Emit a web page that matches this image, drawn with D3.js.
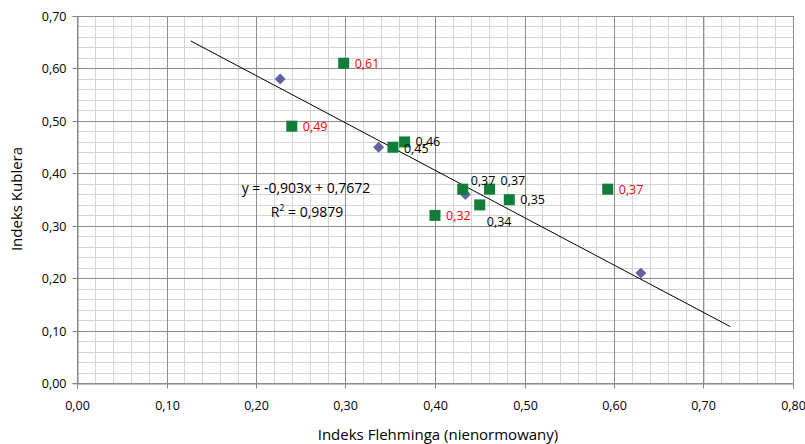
<!DOCTYPE html>
<html><head><meta charset="utf-8">
<script src="https://cdn.jsdelivr.net/npm/d3@7/dist/d3.min.js"></script>
<style>body{margin:0;background:#fff}svg{display:block;font-family:"Open Sans",sans-serif}</style>
</head><body><svg id="c" width="805" height="444"></svg>
<script>
// Data
const diamondX = [0.227, 0.337, 0.434, 0.630];
const diamondY = [0.58, 0.45, 0.36, 0.21];
const squareX = [0.298, 0.240, 0.353, 0.366, 0.431, 0.461, 0.450, 0.483, 0.400, 0.593];
const squareY = [0.61, 0.49, 0.45, 0.46, 0.37, 0.37, 0.34, 0.35, 0.32, 0.37];
const squareLabels = ["0,61", "0,49", "0,45", "0,46", "0,37", "0,37", "0,34", "0,35", "0,32", "0,37"];
const labelRed = [true, true, false, false, false, false, false, false, true, true];
const xTicks = [0, 0.1, 0.2, 0.3, 0.4, 0.5, 0.6, 0.7, 0.8];
const yTicks = [0, 0.1, 0.2, 0.3, 0.4, 0.5, 0.6, 0.7];
const trendSlope = -0.903, trendIntercept = 0.7672, trendR2 = 0.9879;
const trendRange = [0.127, 0.73];
// label placement offsets (dx, dy in px)
const labelOffsets = [[11,0],[11,0],[11,1],[11,0],[8,-9],[11,-9],[7,17],[11,0],[11,0],[11,0]];

const fmt = v => d3.format(".2f")(v).replace(".", ",");
const svg = d3.select("#c");
const x = d3.scaleLinear().domain([0, 0.8]).range([77, 793]);
const y = d3.scaleLinear().domain([0, 0.7]).range([383.3, 16]);

// minor grid
const minorX = d3.range(0, 0.8001, 0.02);
const minorY = d3.range(0, 0.7001, 0.02);
const g = svg.append("g");
g.selectAll(".mx").data(minorX).enter().append("line")
  .attr("x1", d => Math.round(x(d)) + 0.5).attr("x2", d => Math.round(x(d)) + 0.5)
  .attr("y1", y(0.7)).attr("y2", y(0)).attr("stroke", "#d4d4d4");
g.selectAll(".my").data(minorY).enter().append("line")
  .attr("y1", d => Math.round(y(d)) + 0.5).attr("y2", d => Math.round(y(d)) + 0.5)
  .attr("x1", x(0)).attr("x2", x(0.8)).attr("stroke", "#d4d4d4");
// major grid
g.selectAll(".Mx").data(xTicks).enter().append("line")
  .attr("x1", d => Math.round(x(d)) + 0.5).attr("x2", d => Math.round(x(d)) + 0.5)
  .attr("y1", y(0.7)).attr("y2", y(0)).attr("stroke", "#8c8c8c");
g.selectAll(".My").data(yTicks).enter().append("line")
  .attr("y1", d => Math.round(y(d)) + 0.5).attr("y2", d => Math.round(y(d)) + 0.5)
  .attr("x1", x(0)).attr("x2", x(0.8)).attr("stroke", "#8c8c8c");

// axes
const xAxis = d3.axisBottom(x).tickValues(xTicks).tickFormat(fmt).tickSize(5).tickPadding(13);
const yAxis = d3.axisLeft(y).tickValues(yTicks).tickFormat(fmt).tickSize(5).tickPadding(6);
const xa = svg.append("g").attr("transform", `translate(0,${Math.round(y(0)) + 0.5})`).call(xAxis);
const ya = svg.append("g").attr("transform", `translate(${Math.round(x(0)) + 0.5},0)`).call(yAxis);
[xa, ya].forEach(a => {
  a.select(".domain").attr("stroke", "#868686");
  a.selectAll(".tick line").attr("stroke", "#868686");
  a.selectAll("text").attr("font-size", 12.5).attr("fill", "#000").style("font-family", '"Open Sans",sans-serif');
});
ya.selectAll(".tick").attr("transform", d => `translate(0,${Math.round(y(d)) + 0.5})`);
xa.selectAll(".tick").attr("transform", d => `translate(${Math.round(x(d)) + 0.5},0)`);

// trendline
svg.append("line")
  .attr("x1", x(trendRange[0])).attr("y1", y(trendSlope * trendRange[0] + trendIntercept))
  .attr("x2", x(trendRange[1])).attr("y2", y(trendSlope * trendRange[1] + trendIntercept))
  .attr("stroke", "#000").attr("stroke-width", 1);

// diamonds
const dsym = d3.symbol().type(d3.symbolSquare).size(60);
svg.selectAll(".dia").data(diamondX.map((v, i) => [v, diamondY[i]])).enter().append("path")
  .attr("d", dsym)
  .attr("transform", d => `translate(${x(d[0])},${y(d[1])}) rotate(45)`)
  .attr("fill", "#6262a3");

// squares
const sq = squareX.map((v, i) => ({x: v, y: squareY[i], l: squareLabels[i], red: labelRed[i], o: labelOffsets[i]}));
svg.selectAll(".sq").data(sq).enter().append("rect")
  .attr("x", d => x(d.x) - 5.5).attr("y", d => y(d.y) - 5.5)
  .attr("width", 11).attr("height", 11).attr("fill", "#127d3b");
svg.selectAll(".sl").data(sq).enter().append("text")
  .attr("x", d => x(d.x) + d.o[0]).attr("y", d => y(d.y) + d.o[1])
  .attr("dy", "0.35em").attr("font-size", 12.5)
  .attr("fill", d => d.red ? "#ff0000" : "#000").text(d => d.l);

// equation
const eq = "y = " + String(trendSlope).replace(".", ",") + "x + " + String(trendIntercept).replace(".", ",");
svg.append("text").attr("x", 306).attr("y", 193).attr("text-anchor", "middle")
  .attr("font-size", 14).attr("fill", "#000").text(eq);
const r2 = svg.append("text").attr("x", 307).attr("y", 216.5).attr("text-anchor", "middle")
  .attr("font-size", 14).attr("fill", "#000");
r2.append("tspan").text("R");
r2.append("tspan").attr("font-size", 9).attr("dy", -6).text("2");
r2.append("tspan").attr("dy", 6).text(" = " + String(trendR2).replace(".", ","));

// axis titles
svg.append("text").attr("x", 438).attr("y", 440).attr("text-anchor", "middle")
  .attr("font-size", 15).attr("fill", "#000").text("Indeks Flehminga (nienormowany)");
svg.append("text").attr("transform", "translate(22,199) rotate(-90)").attr("text-anchor", "middle")
  .attr("font-size", 15).attr("fill", "#000").text("Indeks Kublera");
</script></body></html>
